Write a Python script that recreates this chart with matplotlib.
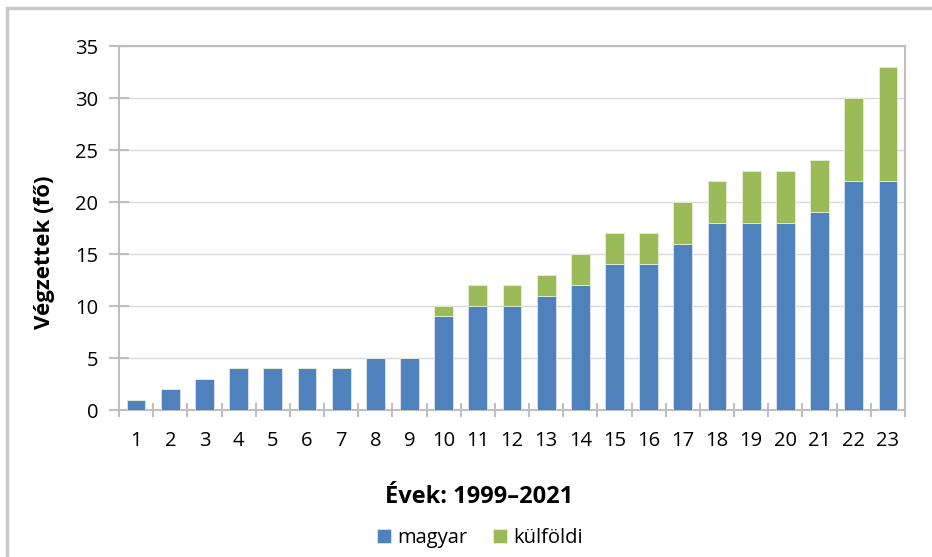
import matplotlib.pyplot as plt
from matplotlib.patches import Rectangle
import numpy as np

years = list(range(1, 24))
magyar = [1, 2, 3, 4, 4, 4, 4, 5, 5, 9, 10, 10, 11, 12, 14, 14, 16, 18, 18, 18, 19, 22, 22]
kulfoldi = [0, 0, 0, 0, 0, 0, 0, 0, 0, 1, 2, 2, 2, 3, 3, 3, 4, 4, 5, 5, 5, 8, 11]

blue = "#4F81BD"
green = "#9BBB59"
gray = "#BFBFBF"

plt.rcParams["font.family"] = ["Open Sans", "DejaVu Sans"]

W, H = 932, 557
fig = plt.figure(figsize=(W / 100, H / 100), dpi=100)
ax = fig.add_axes([119 / W, 1 - 410 / H, (905 - 119) / W, (410 - 46) / H])

# outer chart border
fig.patches.append(Rectangle((7 / W, -0.02), 1.0, 1 - 8 / H + 0.02,
                             transform=fig.transFigure, fill=False,
                             edgecolor="#C8C8C8", linewidth=2.5))

ax.bar(years, magyar, width=0.55, color=blue, edgecolor="#DCE6F1", linewidth=0.6,
       label="magyar", zorder=3)
ax.bar(years, kulfoldi, width=0.55, bottom=magyar, color=green, edgecolor="#E6EED5",
       linewidth=0.6, label="külföldi", zorder=3)

ax.set_xlim(0.5, 23.5)
ax.set_ylim(0, 35)
ax.set_yticks(range(0, 36, 5))
ax.set_xticks(years)
ax.set_xticks(np.arange(0.5, 24, 1), minor=True)

ax.grid(axis="y", color="#D9D9D9", linewidth=1, zorder=0)
ax.set_axisbelow(True)

for s in ax.spines.values():
    s.set_color(gray)
    s.set_linewidth(1.5)

ax.tick_params(axis="y", which="major", direction="inout", length=14, width=1.5,
               color=gray, labelsize=14.5, pad=8)
ax.tick_params(axis="x", which="major", length=0, labelsize=14.5, pad=15)
ax.tick_params(axis="x", which="minor", direction="inout", length=10, width=1.5,
               color=gray)

fig.text(45 / W, 1 - 252 / H, "Végzettek (fő)", rotation=90, ha="center", va="center",
         fontsize=16, fontweight="bold")
fig.text(479 / W, 1 - 497 / H, "Évek: 1999–2021", ha="center", va="center",
         fontsize=17, fontweight="bold")

handles, labels = ax.get_legend_handles_labels()
fig.legend(handles, labels, loc="center", bbox_to_anchor=(480 / W, 1 - 538 / H), ncol=2,
           frameon=False, fontsize=14.5, handlelength=0.7, handleheight=0.7,
           handletextpad=0.3, columnspacing=1.3, borderpad=0)

fig.savefig("out.png", dpi=100)
